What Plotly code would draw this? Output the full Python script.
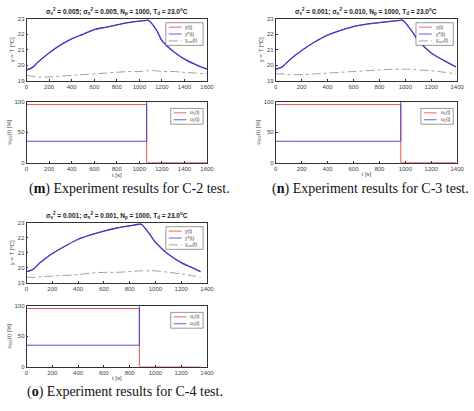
import plotly.graph_objects as go

# C-2 test
t_m = [0, 50, 100, 200, 300, 400, 500, 600, 700, 800, 900, 1000, 1065, 1080, 1150, 1200, 1300, 1400, 1500, 1600]
y_m = [19.7, 19.85, 20.2, 20.8, 21.3, 21.7, 22.0, 22.3, 22.45, 22.6, 22.75, 22.85, 22.9, 22.9, 22.3, 21.6, 20.9, 20.4, 20.05, 19.75]
yout_m = [19.35, 19.3, 19.25, 19.25, 19.3, 19.35, 19.4, 19.45, 19.5, 19.55, 19.6, 19.6, 19.65, 19.65, 19.65, 19.6, 19.6, 19.55, 19.5, 19.45]
sw_m, end_m = 1065, 1600

# C-3 test
t_n = [0, 50, 100, 200, 300, 400, 500, 600, 700, 800, 900, 965, 980, 1050, 1100, 1200, 1300, 1390]
y_n = [19.75, 19.9, 20.3, 20.95, 21.5, 21.95, 22.25, 22.5, 22.65, 22.75, 22.85, 22.9, 22.9, 22.2, 21.6, 20.8, 20.3, 19.9]
yout_n = [19.45, 19.45, 19.4, 19.4, 19.45, 19.5, 19.55, 19.6, 19.65, 19.7, 19.75, 19.75, 19.75, 19.75, 19.7, 19.65, 19.55, 19.45]
sw_n, end_n = 965, 1390

# C-4 test
t_o = [0, 50, 100, 200, 300, 400, 500, 600, 700, 800, 875, 890, 950, 1000, 1100, 1200, 1300, 1350]
y_o = [19.75, 19.9, 20.3, 20.95, 21.45, 21.9, 22.2, 22.45, 22.65, 22.8, 22.9, 22.9, 22.3, 21.7, 20.9, 20.35, 19.95, 19.75]
yout_o = [19.4, 19.35, 19.4, 19.45, 19.5, 19.55, 19.65, 19.7, 19.7, 19.75, 19.8, 19.8, 19.8, 19.8, 19.7, 19.6, 19.45, 19.35]
sw_o, end_o = 875, 1350

u1_levels = [95, 0]
u2_levels = [35, 100]

titles = [
    "σ<sub>v</sub><sup>2</sup> = 0.005; σ<sub>n</sub><sup>2</sup> = 0.005, N<sub>p</sub> = 1000, T<sub>d</sub> = 23.0<sup>o</sup>C",
    "σ<sub>v</sub><sup>2</sup> = 0.001; σ<sub>n</sub><sup>2</sup> = 0.010, N<sub>p</sub> = 1000, T<sub>d</sub> = 23.0<sup>o</sup>C",
    "σ<sub>v</sub><sup>2</sup> = 0.001; σ<sub>n</sub><sup>2</sup> = 0.001, N<sub>p</sub> = 1000, T<sub>d</sub> = 23.0<sup>o</sup>C",
]
captions = [
    "(<b>m</b>) Experiment results for C-2 test.",
    "(<b>n</b>) Experiment results for C-3 test.",
    "(<b>o</b>) Experiment results for C-4 test.",
]
xmax = [1600, 1400, 1400]
top_names = ["y(t)", "y*(t)", "y<sub>out</sub>(t)"]
bot_names = ["u<sub>1</sub>(t)", "u<sub>2</sub>(t)"]
RED, BLUE, GREY = "#e04040", "#3b3bd0", "#888"

panels = [
    (t_m, y_m, yout_m, sw_m, end_m),
    (t_n, y_n, yout_n, sw_n, end_n),
    (t_o, y_o, yout_o, sw_o, end_o),
]

W, H = 474, 411
# pixel boxes: (x0, x1, top_y0, top_y1, bot_y0, bot_y1, caption_x, caption_y)
boxes = [
    (25, 209, 16, 79, 100, 162, 130, 189),
    (279, 464, 16, 79, 100, 162, 376, 189),
    (25, 209, 223, 284, 307, 369, 125, 395),
]

fig = go.Figure()
axfont = dict(family="Arial", size=6, color="#444")
ax_common = dict(showline=True, linecolor="#333", linewidth=0.6, mirror=True, ticks="inside",
                 ticklen=2, tickcolor="#333", showgrid=False, zeroline=False, tickfont=axfont)


def legend_box(x1, ytop, names, colors, dashes, width=36):
    # small boxed legend drawn in paper coords, top-right inside the axes
    row = 7
    bx0, bx1 = x1 - 4 - width, x1 - 4
    by0, by1 = ytop + 4, ytop + 4 + row * len(names) + 2
    fig.add_shape(type="rect", xref="paper", yref="paper", x0=bx0 / W, x1=bx1 / W, y0=1 - by1 / H,
                  y1=1 - by0 / H, line=dict(color="#333", width=0.5), fillcolor="white")
    for k, (nm, c, d) in enumerate(zip(names, colors, dashes)):
        yy = by0 + 1 + row * k + row / 2
        fig.add_shape(type="line", xref="paper", yref="paper", x0=(bx0 + 3) / W, x1=(bx0 + 16) / W,
                      y0=1 - yy / H, y1=1 - yy / H, line=dict(color=c, width=0.8, dash=d))
        fig.add_annotation(text=nm, x=(bx0 + 18) / W, y=1 - yy / H, xref="paper", yref="paper",
                           showarrow=False, xanchor="left", yanchor="middle",
                           font=dict(family="Arial", size=5, color="#444"))


for i, ((t, y, yo, sw, end), (x0, x1, a0, a1, b0, b1, cx, cy)) in enumerate(zip(panels, boxes)):
    xa_top, xa_bot = 2 * i + 1, 2 * i + 2
    xs = lambda n: "x" if n == 1 else f"x{n}"
    ys = lambda n: "y" if n == 1 else f"y{n}"
    fig.add_trace(go.Scatter(x=t, y=y, mode="lines", name=top_names[0], line=dict(color=RED, width=1, shape="spline"),
                             xaxis=xs(xa_top), yaxis=ys(xa_top)))
    fig.add_trace(go.Scatter(x=t, y=y, mode="lines", name=top_names[1], line=dict(color=BLUE, width=1.3, shape="spline"),
                             xaxis=xs(xa_top), yaxis=ys(xa_top)))
    fig.add_trace(go.Scatter(x=t, y=yo, mode="lines", name=top_names[2],
                             line=dict(color=GREY, width=0.8, dash="dashdot", shape="spline"),
                             xaxis=xs(xa_top), yaxis=ys(xa_top)))
    fig.add_trace(go.Scatter(x=[0, sw, end], y=[u1_levels[0], u1_levels[1], u1_levels[1]], mode="lines",
                             line_shape="hv", name=bot_names[0], line=dict(color=RED, width=0.9),
                             xaxis=xs(xa_bot), yaxis=ys(xa_bot)))
    fig.add_trace(go.Scatter(x=[0, sw, end], y=[u2_levels[0], u2_levels[1], u2_levels[1]], mode="lines",
                             line_shape="hv", name=bot_names[1], line=dict(color=BLUE, width=0.9),
                             xaxis=xs(xa_bot), yaxis=ys(xa_bot)))

    dx = [x0 / W, x1 / W]
    fig.layout[f"xaxis{xa_top}"] = dict(ax_common, domain=dx, range=[0, xmax[i]], dtick=200,
                                        anchor=ys(xa_top))
    fig.layout[f"yaxis{xa_top}"] = dict(ax_common, domain=[1 - a1 / H, 1 - a0 / H], range=[19, 23], dtick=1,
                                        anchor=xs(xa_top),
                                        title=dict(text="y = T [<sup>o</sup>C]", font=axfont, standoff=2))
    fig.layout[f"xaxis{xa_bot}"] = dict(ax_common, domain=dx, range=[0, xmax[i]], dtick=200,
                                        anchor=ys(xa_bot), title=dict(text="t [s]", font=axfont, standoff=1))
    fig.layout[f"yaxis{xa_bot}"] = dict(ax_common, domain=[1 - b1 / H, 1 - b0 / H], range=[0, 100], dtick=50,
                                        anchor=xs(xa_bot),
                                        title=dict(text="u<sub>1/2</sub>(t) [%]", font=axfont, standoff=2))

    legend_box(x1, a0, top_names, [RED, BLUE, GREY], ["solid", "solid", "dashdot"], width=38)
    legend_box(x1, b0 + 3, bot_names, [RED, BLUE], ["solid", "solid"], width=33)

    fig.add_annotation(text=f"<b>{titles[i]}</b>", x=(x0 + x1) / 2 / W, y=1 - (a0 - 1) / H, xref="paper",
                       yref="paper", showarrow=False, xanchor="center", yanchor="bottom",
                       font=dict(family="Arial", size=6.5, color="#222"))
    fig.add_annotation(text=captions[i], x=cx / W, y=1 - cy / H, xref="paper",
                       yref="paper", showarrow=False, xanchor="center", yanchor="middle",
                       font=dict(family="Liberation Serif", size=14, color="#111"))

fig.update_layout(width=W, height=H, margin=dict(l=0, r=0, t=0, b=0), plot_bgcolor="white",
                  paper_bgcolor="white", showlegend=False)
# drop the browser's default page margin so the figure sits at the window corner
fig.write_html("out.html", config={"displayModeBar": False},
               post_script="document.body.style.margin='0';")
